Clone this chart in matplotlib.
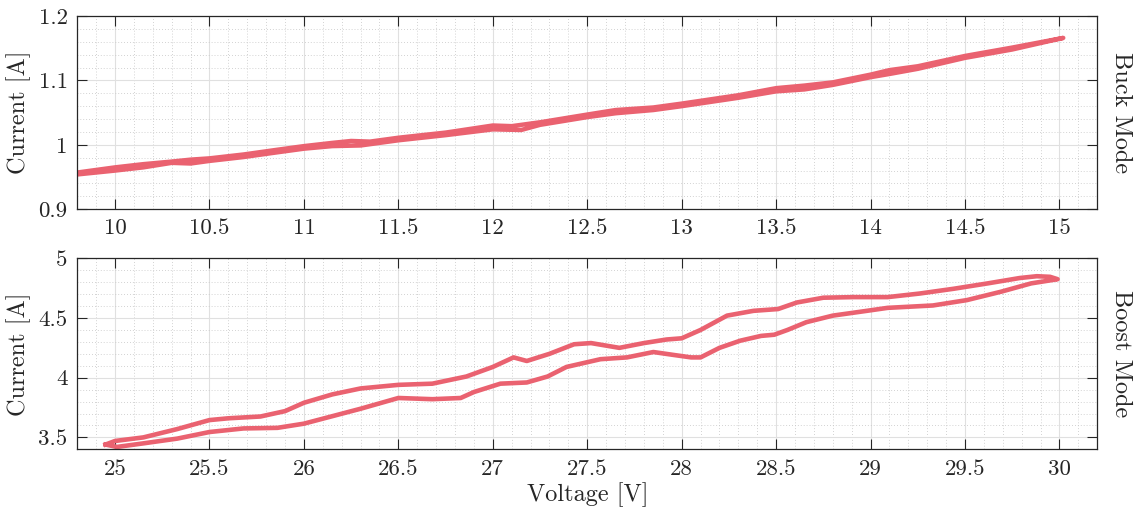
import numpy as np
import matplotlib
matplotlib.use("Agg")
import matplotlib.pyplot as plt
from matplotlib.ticker import MultipleLocator, FuncFormatter

# ---- buck mode loop (voltage [V], current [A]) ----
buck_v_up = [9.80, 10.00, 10.15, 10.30, 10.40, 10.50, 10.68, 10.85, 11.00, 11.15,
             11.25, 11.35, 11.50, 11.75, 12.00, 12.10, 12.25, 12.50, 12.65, 12.85,
             13.00, 13.30, 13.50, 13.65, 13.80, 14.00, 14.10, 14.25, 14.50, 14.75, 15.02]
buck_i_up = [0.957, 0.965, 0.970, 0.974, 0.977, 0.979, 0.985, 0.992, 0.998, 1.003,
             1.006, 1.005, 1.011, 1.019, 1.030, 1.029, 1.035, 1.047, 1.054, 1.058,
             1.064, 1.077, 1.088, 1.092, 1.097, 1.109, 1.116, 1.122, 1.138, 1.151, 1.166]
buck_v_dn = [15.02, 14.75, 14.50, 14.25, 14.10, 14.00, 13.80, 13.65, 13.50, 13.30,
             13.00, 12.85, 12.65, 12.50, 12.25, 12.15, 12.00, 11.75, 11.50, 11.30,
             11.15, 11.00, 10.85, 10.68, 10.50, 10.40, 10.30, 10.15, 10.00, 9.80]
buck_i_dn = [1.166, 1.148, 1.135, 1.118, 1.110, 1.105, 1.093, 1.086, 1.083, 1.073,
             1.060, 1.054, 1.049, 1.043, 1.031, 1.023, 1.024, 1.015, 1.007, 0.999,
             0.998, 0.994, 0.988, 0.981, 0.975, 0.971, 0.972, 0.965, 0.960, 0.954]

# ---- boost mode loop ----
boost_v_up = [24.95, 25.00, 25.15, 25.33, 25.50, 25.60, 25.77, 25.90, 26.00, 26.15,
              26.30, 26.50, 26.68, 26.86, 27.00, 27.11, 27.18, 27.30, 27.43, 27.52,
              27.67, 27.80, 27.92, 28.00, 28.10, 28.24, 28.38, 28.51, 28.61, 28.75,
              28.91, 29.09, 29.26, 29.44, 29.62, 29.79, 29.88, 29.95, 29.99]
boost_i_up = [3.44, 3.47, 3.50, 3.57, 3.645, 3.66, 3.675, 3.72, 3.79, 3.86,
              3.91, 3.94, 3.95, 4.01, 4.09, 4.17, 4.14, 4.20, 4.28, 4.29,
              4.25, 4.29, 4.32, 4.33, 4.40, 4.52, 4.56, 4.575, 4.63, 4.67,
              4.675, 4.675, 4.705, 4.745, 4.79, 4.835, 4.85, 4.845, 4.825]
boost_v_dn = [29.99, 29.93, 29.85, 29.69, 29.51, 29.33, 29.09, 28.98, 28.80, 28.66,
              28.56, 28.49, 28.42, 28.31, 28.20, 28.10, 28.05, 27.96, 27.85, 27.71,
              27.57, 27.39, 27.29, 27.18, 27.04, 26.90, 26.83, 26.68, 26.50, 26.30,
              26.00, 25.86, 25.68, 25.50, 25.33, 25.15, 25.01, 24.95]
boost_i_dn = [4.825, 4.81, 4.79, 4.72, 4.65, 4.605, 4.585, 4.56, 4.52, 4.465,
              4.40, 4.36, 4.35, 4.31, 4.25, 4.17, 4.17, 4.19, 4.215, 4.17,
              4.155, 4.09, 4.01, 3.96, 3.95, 3.88, 3.83, 3.82, 3.83, 3.74,
              3.615, 3.58, 3.575, 3.545, 3.49, 3.45, 3.42, 3.44]

LINE = "#ea6270"
AXC = "#262626"

plt.rcParams["font.family"] = ["cmr10", "DejaVu Serif"]
plt.rcParams["mathtext.fontset"] = "cm"
plt.rcParams["axes.formatter.use_mathtext"] = True

fig = plt.figure(figsize=(11.36, 5.16), dpi=100)
ax1 = fig.add_axes([0.0680, 0.5945, 0.8979, 0.3745])
ax2 = fig.add_axes([0.0680, 0.1292, 0.8979, 0.3702])

fmt = FuncFormatter(lambda v, p: f"{v:g}")


def style(ax, xlim, ylim, ymaj, ymin):
    ax.set_xlim(*xlim)
    ax.set_ylim(*ylim)
    ax.xaxis.set_major_locator(MultipleLocator(0.5))
    ax.xaxis.set_minor_locator(MultipleLocator(0.1))
    ax.yaxis.set_major_locator(MultipleLocator(ymaj))
    ax.yaxis.set_minor_locator(MultipleLocator(ymin))
    ax.xaxis.set_major_formatter(fmt)
    ax.yaxis.set_major_formatter(fmt)
    ax.grid(True, which="major", color="#e0e0e0", lw=0.8, ls="-")
    ax.grid(True, which="minor", color="#c4c4c4", lw=0.6, ls=(0, (1, 2.5)))
    ax.set_axisbelow(True)
    ax.tick_params(which="major", direction="in", length=7, width=0.8,
                   top=True, right=True, colors=AXC, labelsize=16.5, pad=7)
    ax.tick_params(which="minor", length=0, top=True, right=True)
    for s in ax.spines.values():
        s.set_color(AXC)
        s.set_linewidth(0.9)


ax1.plot(buck_v_up + buck_v_dn, buck_i_up + buck_i_dn, color=LINE, lw=3.2,
         solid_joinstyle="round")
style(ax1, (9.8, 15.2), (0.9, 1.2), 0.1, 0.02)
ax1.set_ylabel("Current [A]", fontsize=17.5, color=AXC, labelpad=5)
ax1.text(1.012, 0.5, "Buck Mode", transform=ax1.transAxes, rotation=-90,
         ha="left", va="center", fontsize=17.5, color=AXC)

ax2.plot(boost_v_up + boost_v_dn, boost_i_up + boost_i_dn, color=LINE, lw=3.3,
         solid_joinstyle="round")
style(ax2, (24.8, 30.2), (3.4, 5.0), 0.5, 0.1)
ax2.set_ylabel("Current [A]", fontsize=17.5, color=AXC, labelpad=5)
ax2.set_xlabel("Voltage [V]", fontsize=17.5, color=AXC, labelpad=3)
ax2.text(1.012, 0.5, "Boost Mode", transform=ax2.transAxes, rotation=-90,
         ha="left", va="center", fontsize=17.5, color=AXC)

fig.savefig("out.png", dpi=100)
